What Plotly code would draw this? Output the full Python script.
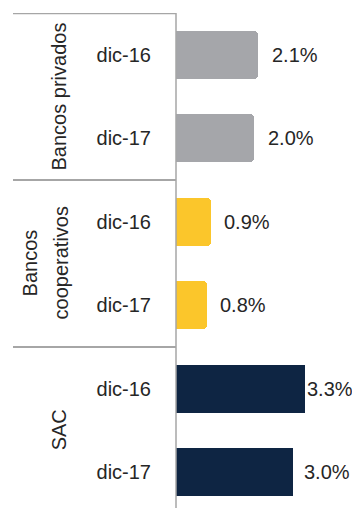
import plotly.graph_objects as go

groups = ["Bancos privados", "Bancos<br>cooperativos", "SAC"]
periods = ["dic-16", "dic-17"]
values = {
    "Bancos privados": [2.1, 2.0],
    "Bancos<br>cooperativos": [0.9, 0.8],
    "SAC": [3.3, 3.0],
}
labels = {
    "Bancos privados": ["2.1%", "2.0%"],
    "Bancos<br>cooperativos": ["0.9%", "0.8%"],
    "SAC": ["3.3%", "3.0%"],
}

colors = {"Bancos privados": "#a5a6aa", "Bancos<br>cooperativos": "#fbc62b", "SAC": "#0e2543"}
radius = {"Bancos privados": 4, "Bancos<br>cooperativos": 4, "SAC": 0}
label_shift = {"Bancos privados": [12, 12], "Bancos<br>cooperativos": [11, 11], "SAC": [0, 9]}
# pixel x-centres of the group title lines (left margin is 176 px wide)
title_px = {"Bancos privados": [59], "Bancos<br>cooperativos": [30, 61], "SAC": [59]}

FONT = "Liberation Sans, Arial, sans-serif"
TXT = "#262626"
LINE = "#a6a6a6"
LM = 176

fig = go.Figure()
tickvals, ticktext = [], []
annotations = []
for gi, g in enumerate(groups):
    ys = [gi * 2 + k for k in range(len(periods))]
    tickvals += ys
    ticktext += periods
    fig.add_trace(go.Bar(
        x=values[g], y=ys, orientation="h", width=0.575,
        marker=dict(color=colors[g], line=dict(width=0), cornerradius=radius[g]),
        hoverinfo="skip", showlegend=False,
    ))
    for k, y in enumerate(ys):
        annotations.append(dict(
            x=values[g][k], y=y, xref="x", yref="y", text=labels[g][k],
            showarrow=False, xanchor="left", yanchor="middle", xshift=label_shift[g][k],
            font=dict(family=FONT, size=20, color=TXT),
        ))
    for line_txt, px in zip(g.split("<br>"), title_px[g]):
        annotations.append(dict(
            x=(px - LM) / LM, y=gi * 2 + 0.5, xref="paper", yref="y", text=line_txt,
            showarrow=False, textangle=-90, xanchor="center", yanchor="middle",
            font=dict(family=FONT, size=20, color=TXT),
        ))

shapes = []
for yb in [-0.5, 1.5, 3.5]:
    shapes.append(dict(type="line", xref="paper", yref="y", x0=(13 - LM) / LM, x1=0, y0=yb, y1=yb,
                       line=dict(color=LINE, width=2.5 if yb < 0 else 2)))
shapes.append(dict(type="line", xref="paper", yref="y", x0=0, x1=0, y0=-0.5, y1=5.6,
                   line=dict(color=LINE, width=1.5)))

fig.update_layout(
    width=352, height=508,
    margin=dict(l=LM, r=0, t=13, b=0),
    paper_bgcolor="white", plot_bgcolor="white",
    bargap=0,
    xaxis=dict(range=[0, 176 / 39], visible=False, fixedrange=True),
    yaxis=dict(range=[5.43, -0.5], tickvals=tickvals, ticktext=ticktext,
               showgrid=False, zeroline=False, showline=False,
               ticks="outside", ticklen=0, ticklabelstandoff=20,
               tickfont=dict(family=FONT, size=20, color=TXT)),
    annotations=annotations, shapes=shapes,
)

fig.write_html("out.html")
